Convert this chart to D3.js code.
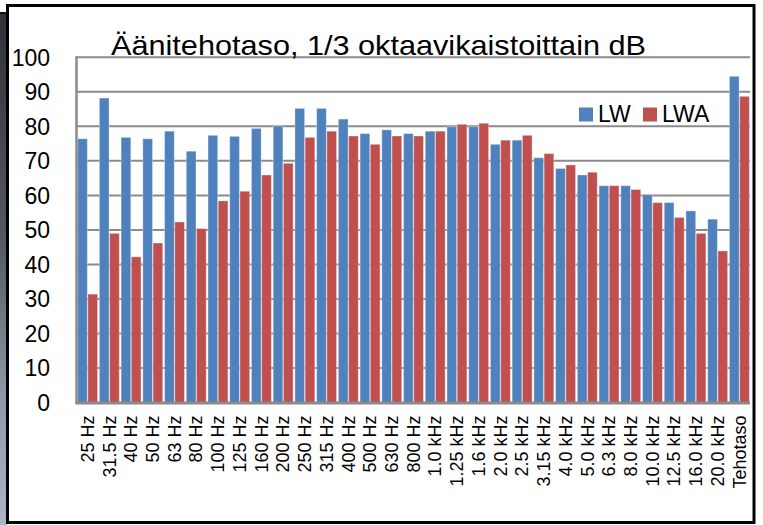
<!DOCTYPE html>
<html>
<head>
<meta charset="utf-8">
<script src="https://cdn.jsdelivr.net/npm/d3@7"></script>
<style>
  html, body { margin: 0; padding: 0; background: #fff; }
  svg { display: block; }
  text { font-family: "Liberation Sans", Arial, sans-serif; fill: #000; }
</style>
</head>
<body>
<svg id="chart" width="763" height="525"></svg>
<script>
const categories = ["25 Hz","31.5 Hz","40 Hz","50 Hz","63 Hz","80 Hz","100 Hz","125 Hz","160 Hz","200 Hz","250 Hz","315 Hz","400 Hz","500 Hz","630 Hz","800 Hz","1.0 kHz","1.25 kHz","1.6 kHz","2.0 kHz","2.5 kHz","3.15 kHz","4.0 kHz","5.0 kHz","6.3 kHz","8.0 kHz","10.0 kHz","12.5 kHz","16.0 kHz","20.0 kHz","Tehotaso"];
const seriesNames = ["LW", "LWA"];
const LW  = [76.4, 88.2, 76.8, 76.4, 78.6, 72.8, 77.4, 77.1, 79.4, 80.1, 85.2, 85.2, 82.1, 77.9, 79.0, 77.9, 78.6, 79.9, 79.9, 74.8, 76.0, 70.9, 67.8, 65.9, 62.8, 62.8, 60.2, 57.9, 55.5, 53.1, 94.5];
const LWA = [31.4, 49.0, 42.2, 46.2, 52.3, 50.4, 58.4, 61.2, 65.9, 69.3, 76.8, 78.6, 77.2, 74.8, 77.2, 77.2, 78.6, 80.6, 80.9, 76.0, 77.4, 72.1, 68.8, 66.7, 62.8, 61.7, 57.9, 53.6, 49.0, 43.9, 88.7];
const yTicks = [0, 10, 20, 30, 40, 50, 60, 70, 80, 90, 100];
const titleText = "Äänitehotaso, 1/3 oktaavikaistoittain dB";
const colors = ["#4F81BD", "#C0504D"];

const svg = d3.select("#chart");

// photo strip at left edge
const defs = svg.append("defs");
const grad = defs.append("linearGradient").attr("id", "strip").attr("x1", 0).attr("y1", 0).attr("x2", 0).attr("y2", 1);
grad.append("stop").attr("offset", "0%").attr("stop-color", "#2e3236");
grad.append("stop").attr("offset", "45%").attr("stop-color", "#555a60");
grad.append("stop").attr("offset", "75%").attr("stop-color", "#8d99a8");
grad.append("stop").attr("offset", "100%").attr("stop-color", "#a9b6c6");
svg.append("rect").attr("x", 0).attr("y", 13).attr("width", 7).attr("height", 512).attr("fill", "url(#strip)");
svg.append("line").attr("x1", 0).attr("x2", 8).attr("y1", 13).attr("y2", 13).attr("stroke", "#111").attr("stroke-width", 2);

// frame
svg.append("rect").attr("x", 7.5).attr("y", 5.5).attr("width", 746.5).attr("height", 517)
  .attr("fill", "#fff").attr("stroke", "#000").attr("stroke-width", 3);

const pLeft = 76.5, pRight = 750, pTop = 57.3, pBottom = 402.5;

const x = d3.scaleBand().domain(categories).range([pLeft, pRight]).paddingInner(0.06).paddingOuter(0.03);
const xs = d3.scaleBand().domain(seriesNames).range([0, x.bandwidth()]);
const y = d3.scaleLinear().domain([0, 100]).range([pBottom, pTop]);

// gridlines
svg.append("g").selectAll("line").data(yTicks.filter(d => d > 0)).join("line")
  .attr("x1", pLeft).attr("x2", pRight)
  .attr("y1", d => y(d)).attr("y2", d => y(d))
  .attr("stroke", "#8a8a8a").attr("stroke-width", 2);

// bars
const series = [LW, LWA];
const groups = svg.append("g").selectAll("g").data(seriesNames).join("g")
  .attr("fill", (d, i) => colors[i]);
groups.selectAll("rect").data((s, si) => categories.map((c, i) => ({ c, v: series[si][i], s })))
  .join("rect")
  .attr("x", d => x(d.c) + xs(d.s) + 0.5)
  .attr("width", xs.bandwidth() - 0.5)
  .attr("y", d => y(d.v))
  .attr("height", d => y(0) - y(d.v))
  .attr("stroke", "rgba(255,255,255,0.35)").attr("stroke-width", 1);

// axes lines
svg.append("line").attr("x1", pLeft).attr("x2", pLeft).attr("y1", pTop - 1).attr("y2", pBottom + 1)
  .attr("stroke", "#8a8a8a").attr("stroke-width", 2.5);
svg.append("line").attr("x1", pLeft - 1).attr("x2", pRight).attr("y1", pBottom + 0.5).attr("y2", pBottom + 0.5)
  .attr("stroke", "#8a8a8a").attr("stroke-width", 3);

// y labels
const yAxis = d3.axisLeft(y).tickValues(yTicks).tickSize(0).tickPadding(0);
const ya = svg.append("g").attr("transform", "translate(50,0)").call(yAxis);
ya.select(".domain").remove();
ya.selectAll("text").attr("font-size", 23).attr("font-family", "Liberation Sans, Arial, sans-serif")
  .attr("fill", "#000").attr("dy", "0.34em");

// x labels
const xAxis = d3.axisBottom(x).tickSize(0).tickPadding(0);
const xa = svg.append("g").attr("transform", `translate(0,${pBottom})`).call(xAxis);
xa.select(".domain").remove();
xa.selectAll("text")
  .attr("font-size", 18).attr("font-family", "Liberation Sans, Arial, sans-serif").attr("fill", "#000")
  .attr("text-anchor", "end")
  .attr("transform", "rotate(-90)")
  .attr("x", -13).attr("y", 0).attr("dy", "0.36em");

// title
svg.append("text").attr("x", 111).attr("y", 55).attr("font-size", 28)
  .attr("textLength", 535).attr("lengthAdjust", "spacingAndGlyphs")
  .text(titleText);

// legend
const legendPos = [{ sx: 579, tx: 598 }, { sx: 643, tx: 662 }];
const lg = svg.append("g");
seriesNames.forEach((n, i) => {
  lg.append("rect").attr("x", legendPos[i].sx).attr("y", 107.5).attr("width", 14).attr("height", 14).attr("fill", colors[i]);
  lg.append("text").attr("x", legendPos[i].tx).attr("y", 122).attr("font-size", 23).text(n);
});
</script>
</body>
</html>
